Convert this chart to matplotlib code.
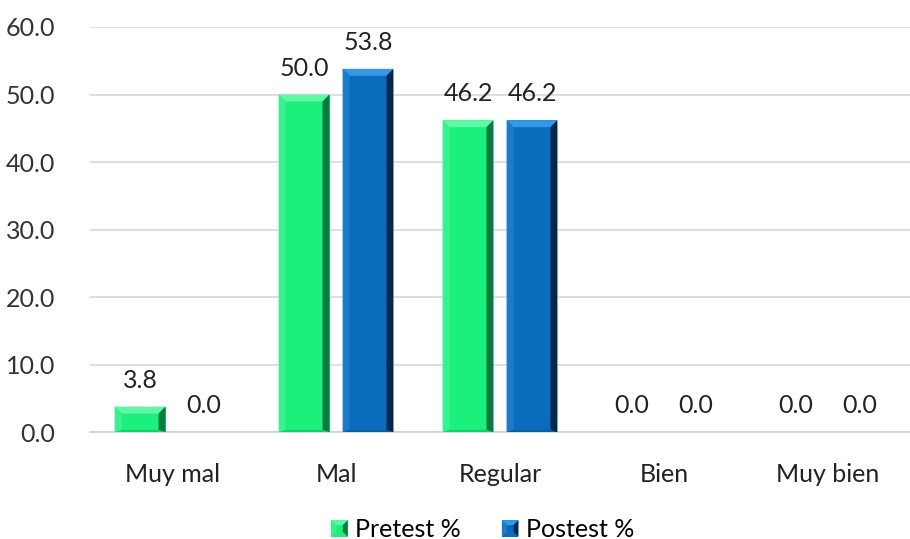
import matplotlib
matplotlib.use("Agg")
import matplotlib.pyplot as plt
from matplotlib.patches import Polygon, Rectangle
from matplotlib.legend_handler import HandlerBase
import numpy as np

categories = ["Muy mal", "Mal", "Regular", "Bien", "Muy bien"]
pretest = [3.8, 50.0, 46.2, 0.0, 0.0]
postest = [0.0, 53.8, 46.2, 0.0, 0.0]
series_names = ["Pretest %", "Postest %"]
yticks = [0, 10, 20, 30, 40, 50, 60]

plt.rcParams["font.family"] = ["Lato", "DejaVu Sans"]
FS = 18

# face, top bevel, left bevel, right bevel, bottom bevel
palettes = [
    dict(face="#1cf07c", top="#5ff9a5", left="#34f48d", right="#0b7a3e", bottom="#17d06c"),
    dict(face="#0a6cbd", top="#3598e3", left="#1a7ccb", right="#02284d", bottom="#075ea5"),
]

fig = plt.figure(figsize=(9.10, 5.39), dpi=100)
ax = fig.add_axes([0.099, 0.198, 0.901, 0.752])
ax.set_xlim(-0.5, len(categories) - 0.5)
ax.set_ylim(0, 60)

bar_w = 0.31
gap = 0.08
bevel_px = 7


def beveled_bar(ax, xc, h, pal):
    if h <= 0:
        return
    x0, x1 = xc - bar_w / 2, xc + bar_w / 2
    # bevel size given in pixels, converted to data units
    inv = ax.transData.inverted()
    p0 = inv.transform(ax.transData.transform((x0, 0)) + np.array([bevel_px, bevel_px]))
    bx = min(p0[0] - x0, bar_w / 2)
    by = min(p0[1], h / 2)
    byb = by * 0.35
    ax.add_patch(Rectangle((x0, 0), bar_w, h, facecolor=pal["face"], edgecolor="none", zorder=3))
    ax.add_patch(Polygon([(x0, h), (x1, h), (x1 - bx, h - by), (x0 + bx, h - by)],
                         closed=True, facecolor=pal["top"], edgecolor="none", zorder=4))
    ax.add_patch(Polygon([(x0, 0), (x0, h), (x0 + bx, h - by), (x0 + bx, byb)],
                         closed=True, facecolor=pal["left"], edgecolor="none", zorder=4))
    ax.add_patch(Polygon([(x1, 0), (x1, h), (x1 - bx, h - by), (x1 - bx, byb)],
                         closed=True, facecolor=pal["right"], edgecolor="none", zorder=4))
    ax.add_patch(Polygon([(x0, 0), (x1, 0), (x1 - bx, byb), (x0 + bx, byb)],
                         closed=True, facecolor=pal["bottom"], edgecolor="none", zorder=4))


x = np.arange(len(categories))
offsets = [-(bar_w + gap) / 2, (bar_w + gap) / 2]
for series, off, pal in zip([pretest, postest], offsets, palettes):
    for xi, v in zip(x, series):
        beveled_bar(ax, xi + off, v, pal)
        ax.text(xi + off, v + 2.2, f"{v:.1f}", ha="center", va="bottom",
                fontsize=FS, color="#222222", zorder=5)

ax.set_yticks(yticks)
ax.set_yticklabels([f"{t:.1f}" for t in yticks], fontsize=FS, color="#333333")
ax.set_xticks(x)
ax.set_xticklabels(categories, fontsize=FS, color="#222222")
ax.tick_params(axis="both", length=0)
ax.tick_params(axis="y", pad=25)
ax.tick_params(axis="x", pad=22)
ax.grid(axis="y", color="#d9d9d9", linewidth=1.2, zorder=0)
ax.set_axisbelow(True)
for s in ["top", "right", "left"]:
    ax.spines[s].set_visible(False)
ax.spines["bottom"].set_color("#d0d0d0")
ax.spines["bottom"].set_linewidth(1.2)


class BevelSquareHandler(HandlerBase):
    def __init__(self, pal):
        super().__init__()
        self.pal = pal

    def create_artists(self, legend, orig_handle, xdescent, ydescent, width, height, fontsize, trans):
        s = height * 0.95
        x0 = xdescent + width - s
        y0 = -ydescent
        b = s * 0.3
        pal = self.pal
        return [
            Rectangle((x0, y0), s, s, facecolor=pal["face"], edgecolor="none", transform=trans),
            Polygon([(x0, y0 + s), (x0 + s, y0 + s), (x0 + s - b, y0 + s - b), (x0 + b, y0 + s - b)],
                    facecolor=pal["top"], edgecolor="none", transform=trans),
            Polygon([(x0 + s, y0), (x0 + s, y0 + s), (x0 + s - b, y0 + s - b), (x0 + s - b, y0 + b)],
                    facecolor=pal["right"], edgecolor="none", transform=trans),
            Polygon([(x0, y0), (x0, y0 + s), (x0 + b, y0 + s - b), (x0 + b, y0 + b)],
                    facecolor=pal["left"], edgecolor="none", transform=trans),
        ]


h1 = Rectangle((0, 0), 1, 1)
h2 = Rectangle((0, 0), 1, 1)
fig.legend([h1, h2], series_names, loc="lower center", bbox_to_anchor=(0.53, -0.045),
           ncol=2, frameon=False, fontsize=FS, handlelength=0.7, handletextpad=0.3,
           columnspacing=1.6,
           handler_map={h1: BevelSquareHandler(palettes[0]), h2: BevelSquareHandler(palettes[1])})

fig.savefig("out.png", dpi=100, facecolor="white")
